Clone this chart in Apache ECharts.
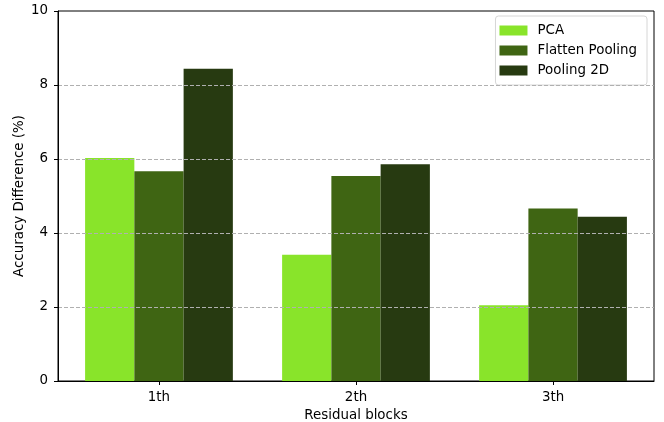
<!DOCTYPE html>
<html>
<head>
<meta charset="utf-8">
<script src="https://cdn.jsdelivr.net/npm/echarts@6/dist/echarts.min.js"></script>
<style>
  html, body { margin: 0; padding: 0; background: #fff; }
  #chart { width: 664px; height: 422px; }
</style>
</head>
<body>
<div id="chart"></div>
<script>
// Residual block positions on the x axis
const categories = ['1th', '2th', '3th'];

// Accuracy difference (%) per method
const pcaValues = [6.03, 3.41, 2.05];
const flattenValues = [5.67, 5.54, 4.66];
const pooling2dValues = [8.44, 5.86, 4.44];

// Y axis range and tick step
const yMin = 0;
const yMax = 10;
const yStep = 2;

// X range: category slots 0..n-1, padded by 5% of the bar span on each side
const groupWidth = 0.75;
const xPad = 0.05 * ((categories.length - 1) + groupWidth);
const xMin = -groupWidth / 2 - xPad;
const xMax = (categories.length - 1) + groupWidth / 2 + xPad;
const categoryIndex = categories.map((c, i) => i);

const seriesNames = ['PCA', 'Flatten Pooling', 'Pooling 2D'];
const seriesColors = ['#89e42a', '#3f6513', '#273a11'];
const seriesValues = [pcaValues, flattenValues, pooling2dValues];

const font = 'DejaVu Sans';
const fontSize = 13.4;
const chart = echarts.init(document.getElementById('chart'), null, { renderer: 'canvas' });

chart.setOption({
  animation: false,
  backgroundColor: '#ffffff',
  textStyle: { fontFamily: font },
  grid: {
    left: 58, right: 10, top: 11, bottom: 41,
    containLabel: false,
    outerBoundsMode: 'none',
    show: true, borderColor: '#000', borderWidth: 1, backgroundColor: 'transparent'
  },
  legend: {
    orient: 'vertical',
    right: 17, top: 16,
    itemWidth: 28, itemHeight: 10, itemGap: 7,
    padding: [8, 10, 8, 4],
    backgroundColor: '#fff',
    borderColor: '#d6d6d6', borderWidth: 1, borderRadius: 3,
    icon: 'rect',
    textStyle: { fontFamily: font, fontSize: fontSize, color: '#000', padding: [0, 0, 0, 5] },
    data: seriesNames
  },
  xAxis: {
    type: 'value',
    min: xMin, max: xMax,
    name: 'Residual blocks',
    nameLocation: 'middle',
    nameGap: 28,
    nameMoveOverlap: false,
    nameTextStyle: { fontFamily: font, fontSize: fontSize, color: '#000' },
    axisLine: { show: true, onZero: false, lineStyle: { color: '#000', width: 1 } },
    axisTick: { show: true, length: 4, customValues: categoryIndex, lineStyle: { color: '#000' } },
    axisLabel: {
      fontFamily: font, fontSize: fontSize, color: '#000', margin: 10,
      customValues: categoryIndex,
      formatter: (v) => categories[Math.round(v)]
    },
    splitLine: { show: false }
  },
  yAxis: {
    type: 'value',
    min: yMin, max: yMax, interval: yStep,
    z: 10,
    name: 'Accuracy Difference (%)',
    nameLocation: 'middle',
    nameGap: 32,
    nameMoveOverlap: false,
    nameTextStyle: { fontFamily: font, fontSize: fontSize, color: '#000' },
    axisLine: { show: true, onZero: false, lineStyle: { color: '#000', width: 1 } },
    axisTick: { show: true, length: 4, lineStyle: { color: '#000' } },
    axisLabel: { fontFamily: font, fontSize: fontSize, color: '#000', margin: 10 },
    splitLine: {
      show: true,
      showMinLine: false,
      showMaxLine: false,
      lineStyle: { color: '#b0b0b0', type: [4, 2], width: 1 }
    }
  },
  series: seriesNames.map((name, i) => ({
    name: name,
    type: 'bar',
    data: seriesValues[i].map((v, k) => [categoryIndex[k], v]),
    barGap: '0%',
    barCategoryGap: '25%',
    itemStyle: { color: seriesColors[i] }
  }))
});
</script>
</body>
</html>
